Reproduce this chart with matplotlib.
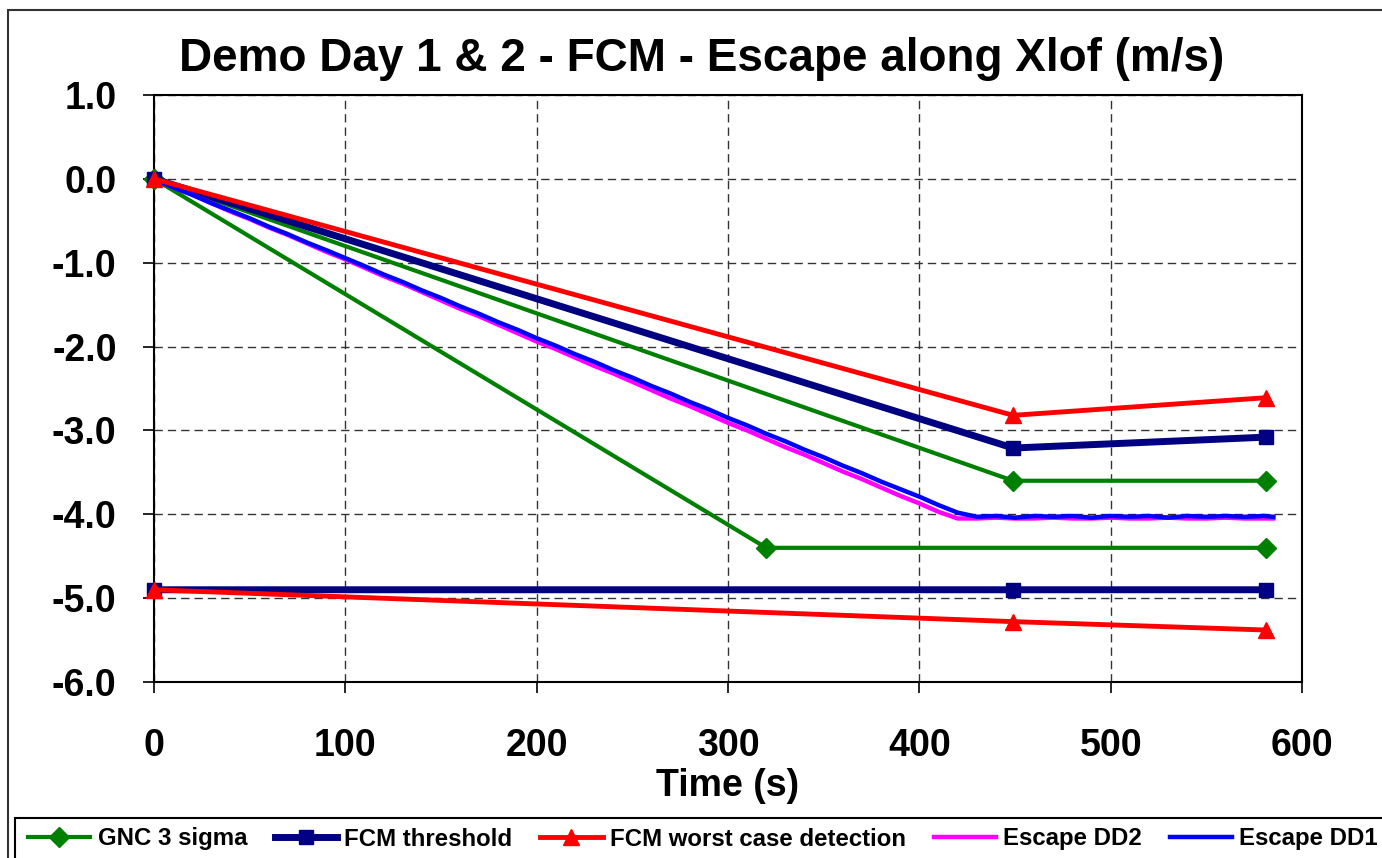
"""Demo Day 1 & 2 - FCM escape along Xlof, rebuilt with matplotlib."""

import matplotlib

matplotlib.use("Agg")
import matplotlib.pyplot as plt
import numpy as np
from matplotlib.patches import Rectangle

plt.rcParams["font.family"] = ["Liberation Sans", "DejaVu Sans"]
plt.rcParams["font.weight"] = "bold"

nan = np.nan

# GNC 3 sigma (two branches separated by a gap)
gnc_t = [0, 320, 581, nan, 0, 449, 581]
gnc_v = [0.0, -4.40, -4.40, nan, 0.0, -3.60, -3.60]

# FCM threshold (upper and lower branch)
thr_t = [0, 449, 581, nan, 0, 449, 581]
thr_v = [0.0, -3.21, -3.08, nan, -4.90, -4.90, -4.90]

# FCM worst case detection (upper and lower branch)
wcd_t = [0, 449, 581, nan, 0, 449, 581]
wcd_v = [0.0, -2.82, -2.61, nan, -4.90, -5.28, -5.38]

# escape profiles, read every 10 s
esc_t = [0, 10, 20, 30, 40, 50, 60, 70, 80, 90,
         100, 110, 120, 130, 140, 150, 160, 170, 180, 190,
         200, 210, 220, 230, 240, 250, 260, 270, 280, 290,
         300, 310, 320, 330, 340, 350, 360, 370, 380, 390,
         400, 410, 420, 430, 440, 450, 460, 470, 480, 490,
         500, 510, 520, 530, 540, 550, 560, 570, 580, 585]

dd2_v = [0.00, -0.10, -0.19, -0.29, -0.39, -0.48, -0.58, -0.67, -0.77, -0.87,
         -0.96, -1.06, -1.16, -1.25, -1.35, -1.45, -1.55, -1.64, -1.74, -1.84,
         -1.94, -2.03, -2.13, -2.23, -2.32, -2.42, -2.52, -2.62, -2.71, -2.81,
         -2.91, -3.00, -3.10, -3.20, -3.29, -3.39, -3.49, -3.58, -3.68, -3.78,
         -3.87, -3.97, -4.05, -4.05, -4.04, -4.05, -4.05, -4.04, -4.05, -4.05,
         -4.04, -4.05, -4.05, -4.04, -4.05, -4.05, -4.04, -4.05, -4.05, -4.05]

dd1_v = [0.00, -0.10, -0.19, -0.29, -0.38, -0.47, -0.57, -0.66, -0.76, -0.85,
         -0.945, -1.04, -1.14, -1.23, -1.33, -1.42, -1.52, -1.61, -1.71, -1.80,
         -1.90, -1.99, -2.09, -2.18, -2.28, -2.37, -2.47, -2.56, -2.66, -2.75,
         -2.85, -2.94, -3.04, -3.13, -3.23, -3.32, -3.42, -3.51, -3.61, -3.70,
         -3.79, -3.89, -3.98, -4.03, -4.02, -4.04, -4.02, -4.03, -4.02, -4.04,
         -4.02, -4.03, -4.02, -4.04, -4.02, -4.03, -4.02, -4.03, -4.02, -4.03]

x_ticks = [0, 100, 200, 300, 400, 500, 600]
y_ticks = [1.0, 0.0, -1.0, -2.0, -3.0, -4.0, -5.0, -6.0]

W, H = 1382, 858
fig = plt.figure(figsize=(W / 100, H / 100), dpi=100)
ax = fig.add_axes([154 / W, 1 - 682 / H, 1148 / W, 587 / H])

# outer chart frame (cut off at right and bottom)
fig.patches.append(Rectangle((8 / W, -0.1), 1.2, 1 - 10 / H + 0.1,
                             transform=fig.transFigure, fill=False,
                             edgecolor="#333333", linewidth=1.5))

h_gnc, = ax.plot(gnc_t, gnc_v, color="#008000", lw=3, marker="D", ms=10,
                 zorder=3, clip_on=False)
h_thr, = ax.plot(thr_t, thr_v, color="#000080", lw=5, marker="s", ms=10,
                 zorder=4, clip_on=False)
h_dd2, = ax.plot(esc_t, dd2_v, color="#FF00FF", lw=3.2, zorder=5)
h_dd1, = ax.plot(esc_t, dd1_v, color="#0000FF", lw=3.2, zorder=6)
h_wcd, = ax.plot(wcd_t, wcd_v, color="#FF0000", lw=3.5, marker="^", ms=12,
                 zorder=7, clip_on=False)

ax.set_xlim(0, 600)
ax.set_ylim(-6.0, 1.0)
ax.set_xticks(x_ticks)
ax.set_yticks(y_ticks)
ax.set_yticklabels([f"{v:.1f}" for v in y_ticks])
ax.tick_params(direction="out", length=8, width=1.2, labelsize=27)
ax.tick_params(axis="y", pad=19)
ax.tick_params(axis="x", pad=25)
ax.grid(True, color="#333333", linestyle=(0, (6, 3.6)), linewidth=1)
ax.set_axisbelow(True)
for spine in ax.spines.values():
    spine.set_linewidth(1.5)
    spine.set_color("black")

ax.set_xlabel("Time (s)", fontsize=27, fontweight="bold", labelpad=3)
fig.text(702 / W, 1 - 71 / H, "Demo Day 1 & 2 - FCM - Escape along Xlof (m/s)",
         ha="center", va="baseline", fontsize=33, fontweight="bold")

# legend frame drawn by hand, it runs off the picture edge
fig.patches.append(Rectangle((15 / W, -0.1), 1.2, 1 - 818 / H + 0.1,
                             transform=fig.transFigure, facecolor="white",
                             edgecolor="black", linewidth=1.5, zorder=5))
leg = fig.legend([h_gnc, h_thr, h_wcd, h_dd2, h_dd1],
                 ["GNC 3 sigma", "FCM threshold", "FCM worst case detection",
                  "Escape DD2", "Escape DD1"],
                 loc="center left", bbox_to_anchor=(28 / W, 1 - 839 / H),
                 ncol=5, frameon=False, handlelength=2.6,
                 handletextpad=0.3, columnspacing=1.15, borderpad=0,
                 borderaxespad=0, prop={"weight": "bold", "size": 17.3})
leg.set_zorder(6)

fig.savefig("out.png", dpi=100)
